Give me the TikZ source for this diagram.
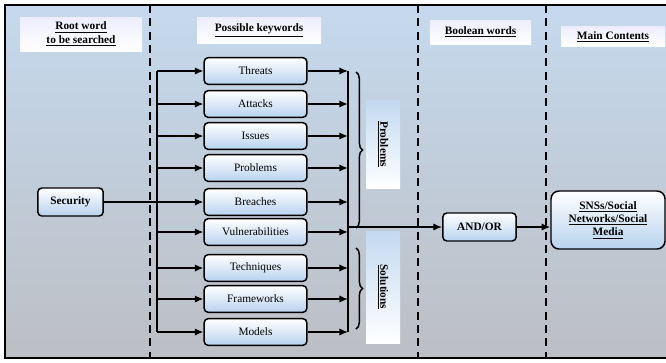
\documentclass[tikz,border=0pt]{standalone}
\usepackage{fontspec}
\setmainfont{Liberation Serif}
\usetikzlibrary{arrows.meta,decorations.pathreplacing}

\definecolor{bgtop}{RGB}{197,217,238}
\definecolor{bgbot}{RGB}{188,191,196}
\definecolor{boxblue}{RGB}{184,210,238}

\begin{document}
\begin{tikzpicture}[
    x=0.75pt, y=-0.75pt,
    kw/.style={draw, rounded corners=3pt, line width=1.1pt, top color=white, bottom color=boxblue, minimum width=77pt, minimum height=20pt, font=\fontsize{8.5}{10}\selectfont},
    bkw/.style={kw, font=\fontsize{8.5}{10}\selectfont\bfseries, align=center},
    hd/.style={top color=blue!7!white, bottom color=white, align=center, font=\fontsize{8.5}{10}\selectfont\bfseries},
    strip/.style={top color=boxblue!85!white, bottom color=white, minimum width=25.5pt},
    arr/.style={-{Latex[length=6.5pt,width=5.5pt]}, line width=1.1pt},
    sep/.style={dash pattern=on 6pt off 4pt, line width=1.3pt},
    brc/.style={decorate, decoration={brace, amplitude=5pt}, line width=1.1pt}
]
\useasboundingbox (0,0) rectangle (666,362);
\fill[top color=bgtop, bottom color=bgbot] (5,5) rectangle (672,358);
\draw[line width=1.5pt] (5,5) rectangle (672,358);

\draw[sep] (150,5) -- (150,358);
\draw[sep] (418,5) -- (418,358);
\draw[sep] (546,5) -- (546,358);

\node[hd, minimum width=91.5pt, minimum height=25.5pt] (root) at (81,34) {\underline{Root word}\\\underline{to be searched}};
\node[hd, minimum width=93pt, minimum height=20pt] (poss) at (259,30.5) {\underline{Possible keywords}};
\node[hd, minimum width=76pt, minimum height=18pt] (bool) at (480.5,32) {\underline{Boolean words}};
\node[hd, minimum width=78pt, minimum height=14pt] (main) at (613,36.5) {\underline{Main Contents}};

\node[kw] (threats) at (255.5,71) {Threats};
\node[kw] (attacks) at (255.5,104) {Attacks};
\node[kw] (issues) at (255.5,136) {Issues};
\node[kw] (problems) at (255.5,168) {Problems};
\node[kw] (breaches) at (255.5,202) {Breaches};
\node[kw] (vuln) at (255.5,232) {Vulnerabilities};
\node[kw] (tech) at (255.5,268) {Techniques};
\node[kw] (frame) at (255.5,299) {Frameworks};
\node[kw] (models) at (255.5,332) {Models};

\node[bkw, minimum width=49pt, minimum height=21pt] (sec) at (70.5,202) {Security};
\node[bkw, minimum width=55pt, minimum height=21pt] (andor) at (479.5,227) {AND/OR};
\node[bkw, rounded corners=6pt, minimum width=85.5pt, minimum height=43.5pt] (sns) at (608,220) {\underline{SNSs/Social}\\\underline{Networks/Social}\\\underline{Media}};

\node[strip, minimum height=66pt] (pstrip) at (383,144) {};
\node[strip, minimum height=84pt] (sstrip) at (383,287) {};
\node[rotate=-90, font=\fontsize{8.5}{10}\selectfont\bfseries] (plabel) at (pstrip) {\underline{Problems}};
\node[rotate=-90, font=\fontsize{8.5}{10}\selectfont\bfseries] (slabel) at (sstrip) {\underline{Solutions}};

\coordinate (lt) at (157,0);
\coordinate (rt) at (348,0);

\draw[line width=1.1pt] (threats -| lt) -- (models -| lt);
\draw[arr] (threats -| lt) -- (threats);
\draw[arr] (attacks -| lt) -- (attacks);
\draw[arr] (issues -| lt) -- (issues);
\draw[arr] (problems -| lt) -- (problems);
\draw[arr] (sec) -- (breaches);
\draw[arr] (vuln -| lt) -- (vuln);
\draw[arr] (tech -| lt) -- (tech);
\draw[arr] (frame -| lt) -- (frame);
\draw[arr] (models -| lt) -- (models);

\draw[line width=1.1pt] (threats -| rt) -- (models -| rt);
\draw[arr] (threats) -- (threats -| rt);
\draw[arr] (attacks) -- (attacks -| rt);
\draw[arr] (issues) -- (issues -| rt);
\draw[arr] (problems) -- (problems -| rt);
\draw[arr] (breaches) -- (breaches -| rt);
\draw[arr] (vuln) -- (vuln -| rt);
\draw[arr] (tech) -- (tech -| rt);
\draw[arr] (frame) -- (frame -| rt);
\draw[arr] (models) -- (models -| rt);

\draw[brc] (356,72) -- (356,228);
\draw[brc] (356,248) -- (356,329);

\draw[arr] (rt |- andor) -- (andor);
\draw[arr] (andor) -- (andor -| sns.west);
\end{tikzpicture}
\end{document}
